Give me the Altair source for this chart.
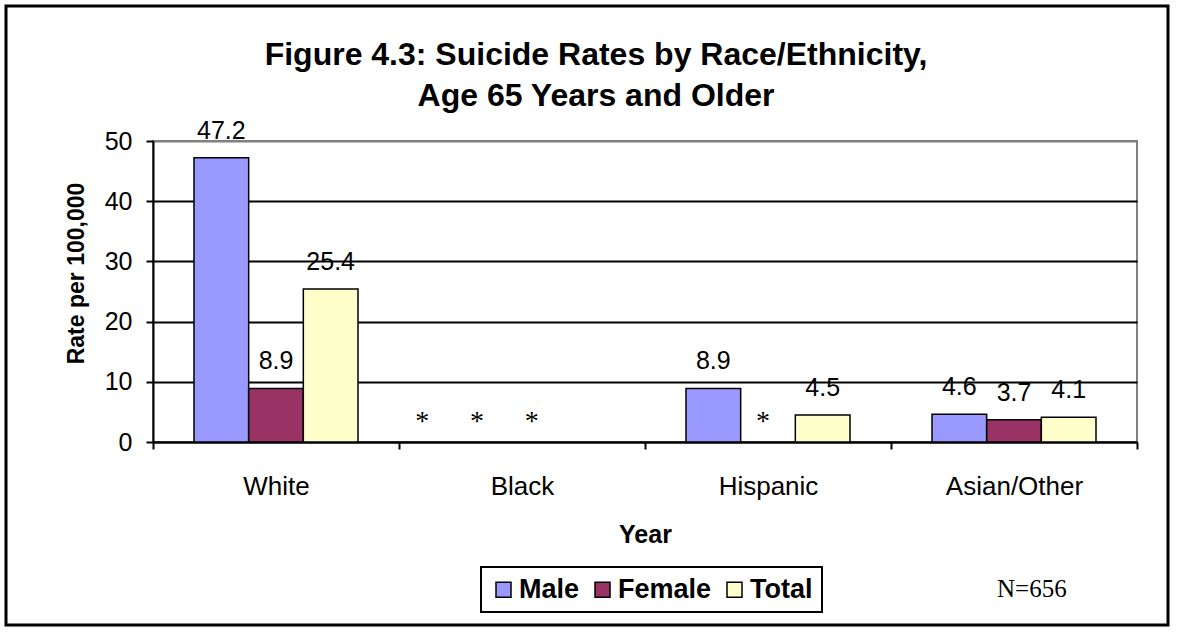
import altair as alt
import pandas as pd

races = ["White", "Black", "Hispanic", "Asian/Other"]
sexes = ["Male", "Female", "Total"]
male = [47.2, None, 8.9, 4.6]
female = [8.9, None, None, 3.7]
total = [25.4, None, 4.5, 4.1]
colors = ["#9999FF", "#993366", "#FFFFCC"]
y_ticks = [0, 10, 20, 30, 40, 50]
title_lines = ["Figure 4.3: Suicide Rates by Race/Ethnicity,", "Age 65 Years and Older"]
note = "N=656"

rows = []
for i, r in enumerate(races):
    for s, vals in zip(sexes, [male, female, total]):
        v = vals[i]
        rows.append({"race": r, "sex": s, "rate": v,
                     "label": (f"{v:.1f}" if v is not None else "*")})
df = pd.DataFrame(rows)

SANS = "Liberation Sans, Arial, sans-serif"
SERIF = "Liberation Serif, Times New Roman, serif"

x_axis = alt.Axis(labelAngle=0, labelFontSize=26, labelFont=SANS, labelColor="black",
                  labelPadding=45, labelBaseline="alphabetic", tickBand="extent",
                  ticks=True, tickSize=7, tickColor="black", tickWidth=2,
                  domainColor="black", domainWidth=2, grid=False,
                  titleFont=SANS, titleFontSize=25, titleFontWeight="bold", titleColor="black",
                  titleX=492, titleY=100, titleBaseline="alphabetic", titleAlign="center")
y_axis = alt.Axis(values=y_ticks, labelFontSize=25, labelFont=SANS, labelColor="black",
                  labelPadding=14, tickSize=7, tickColor="black", tickWidth=2,
                  domainColor="black", domainWidth=2, grid=True, gridWidth=2,
                  gridColor=alt.condition("datum.value === 50", alt.value("#808080"), alt.value("black")),
                  titleFont=SANS, titleFontSize=23, titleFontWeight="bold", titleColor="black",
                  titleX=-70, titleY=132, titleAngle=270, titleAlign="center",
                  titleBaseline="alphabetic")

x_enc = alt.X("race:N", sort=races, scale=alt.Scale(paddingInner=0, paddingOuter=0),
              axis=x_axis, title="Year")
xo_enc = alt.XOffset("sex:N", sort=sexes,
                     scale=alt.Scale(domain=sexes, paddingInner=0, paddingOuter=0.75))
y_scale = alt.Scale(domain=[0, 50], nice=False, zero=True)
y_enc = alt.Y("rate:Q", scale=y_scale, axis=y_axis, title="Rate per 100,000")
y_zero = alt.Y("zero:Q", scale=y_scale, axis=y_axis, title="Rate per 100,000")

color_enc = alt.Color("sex:N", sort=sexes, scale=alt.Scale(domain=sexes, range=colors),
                      legend=alt.Legend(orient="none", legendX=328, legendY=426,
                                        direction="horizontal", title=None,
                                        labelFont=SANS, labelFontSize=27, labelFontWeight="bold",
                                        labelColor="black", symbolType="square", symbolSize=225,
                                        symbolStrokeColor="black", symbolStrokeWidth=1.5,
                                        symbolOpacity=1, labelOffset=2, columnPadding=9,
                                        padding=9, strokeColor="black"))

base = alt.Chart(df)

bars = base.transform_filter("isValid(datum.rate)").mark_bar(
    stroke="black", strokeWidth=1.5, opacity=1
).encode(x=x_enc, xOffset=xo_enc, y=y_enc, color=color_enc)

labels = base.transform_filter("isValid(datum.rate)").mark_text(
    baseline="alphabetic", dy=-19, fontSize=25, font=SANS, color="black"
).encode(x=x_enc, xOffset=xo_enc, y=y_enc, text="label:N")

ast_black = base.transform_filter("!isValid(datum.rate) && datum.race === 'Black'").transform_calculate(
    zero="0").mark_text(baseline="alphabetic", dy=-12, dx=-45, fontSize=28, font=SERIF, color="black"
).encode(x=x_enc, xOffset=xo_enc, y=y_zero, text="label:N")

ast_other = base.transform_filter("!isValid(datum.rate) && datum.race !== 'Black'").transform_calculate(
    zero="0").mark_text(baseline="alphabetic", dy=-12, dx=-5, fontSize=28, font=SERIF, color="black"
).encode(x=x_enc, xOffset=xo_enc, y=y_zero, text="label:N")

frame = alt.Chart(pd.DataFrame({"k": [0]})).mark_rect(
    fillOpacity=0, stroke="black", strokeWidth=3
).encode(x=alt.value(-147), x2=alt.value(1015), y=alt.value(-135), y2=alt.value(484))

title1 = alt.Chart(pd.DataFrame({"t": [title_lines[0]]})).mark_text(
    align="center", baseline="alphabetic", fontSize=32, fontWeight="bold", font=SANS, color="black"
).encode(x=alt.value(443), y=alt.value(-76), text="t:N")

title2 = alt.Chart(pd.DataFrame({"t": [title_lines[1]]})).mark_text(
    align="center", baseline="alphabetic", fontSize=32, fontWeight="bold", font=SANS, color="black"
).encode(x=alt.value(443), y=alt.value(-35), text="t:N")

note_t = alt.Chart(pd.DataFrame({"t": [note]})).mark_text(
    align="left", baseline="alphabetic", fontSize=25, font=SERIF, color="black"
).encode(x=alt.value(844), y=alt.value(456), text="t:N")

chart = alt.layer(frame, bars, labels, ast_black, ast_other, title1, title2, note_t).properties(
    width=984, height=301,
    autosize=alt.AutoSizeParams(type="none"),
    padding={"left": 153, "top": 141, "right": 42, "bottom": 190},
    background="white",
).configure_view(stroke="#808080", strokeWidth=2).configure_legend(strokeWidth=2)

chart.save("out.html", embed_options={"renderer": "svg", "actions": False})
